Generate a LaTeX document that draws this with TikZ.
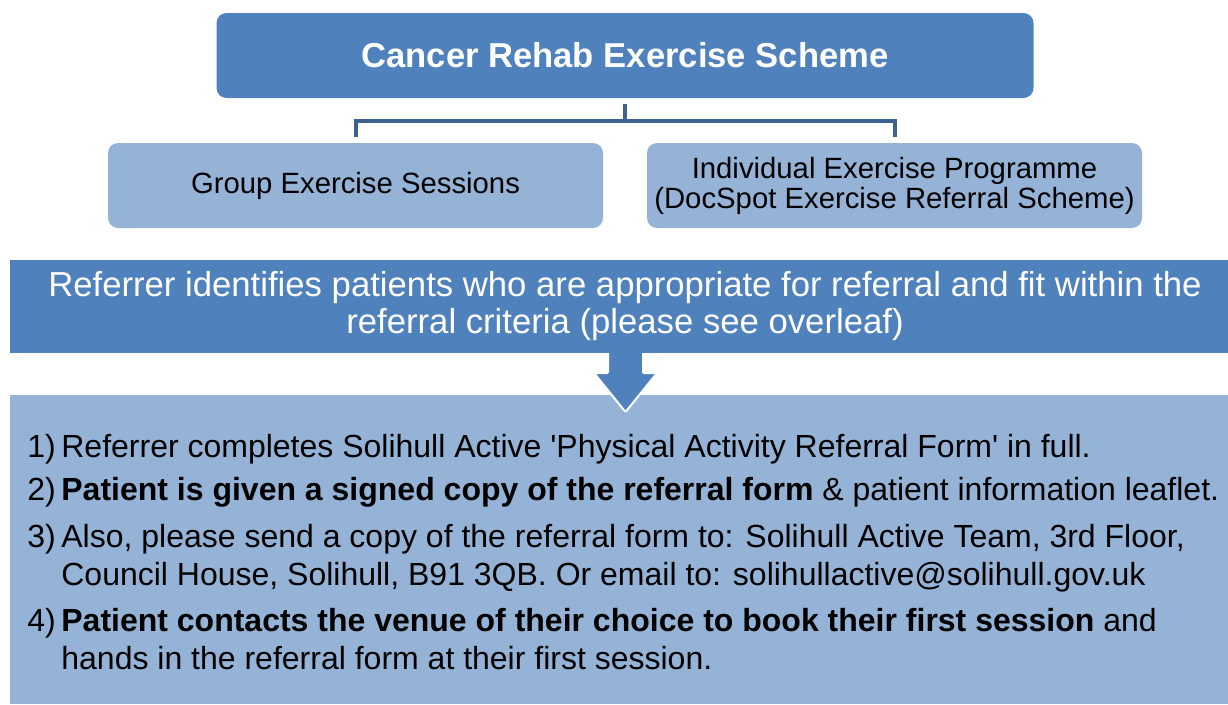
\documentclass[tikz,border=0pt]{standalone}
\usepackage{fontspec}
\setmainfont{Liberation Sans}
\usetikzlibrary{calc}
\definecolor{darkblu}{RGB}{79,129,189}
\definecolor{liteblu}{RGB}{149,179,215}
\definecolor{linkblu}{RGB}{60,98,145}
\tikzset{every picture/.style={line width=0.75pt}}
\tikzset{
  headbox/.style={fill=darkblu,text=white,rounded corners=10pt,inner sep=0pt,
    minimum width=817pt,minimum height=85pt,font=\fontsize{34.6}{38}\selectfont\bfseries},
  subbox/.style={fill=liteblu,rounded corners=10pt,inner sep=0pt,align=center,
    minimum width=495pt,minimum height=85pt,font=\fontsize{29.3}{30}\selectfont},
  stepitem/.style={anchor=base west,inner sep=0pt,align=left,
    font=\fontsize{32}{38}\selectfont},
  conn/.style={draw=linkblu,line width=4pt}
}
\newcommand{\numbox}[1]{\makebox[34pt][l]{#1}}

\begin{document}
\begin{tikzpicture}[x=1pt,y=-1pt]
\useasboundingbox (0,0) rectangle (1228,704);

% Top of the scheme
\node[headbox] (scheme) at (625,55.5) {Cancer Rehab Exercise Scheme};
\node[subbox] (group) at (355.5,185.5) {Group Exercise Sessions};
\node[subbox] (indiv) at (894.5,185.5) {Individual Exercise Programme\\(DocSpot Exercise Referral Scheme)};

% Fork
\coordinate (fork) at (625,120.5);
\draw[conn] ([yshift=-6pt]scheme.south) -- (fork);
\draw[conn] ([yshift=6pt]group.north) |- (fork) -| ([yshift=6pt]indiv.north);

% Steps panel
\node[fill=liteblu,minimum width=1218pt,minimum height=309pt,inner sep=0pt] (steps) at (619,549.5) {};

% Down arrow
\fill[darkblu,draw=white,line width=2pt,rounded corners=1pt]
  (608,345) -- (608,373) -- (594,373) -- (625.5,412) -- (657,373) -- (643,373) -- (643,345) -- cycle;

% Banner
\node[fill=darkblu,minimum width=1218pt,minimum height=93pt,inner sep=0pt] (banner) at (619,306.5) {};
\node[text=white,inner sep=0pt,align=center,font=\fontsize{34.7}{37}\selectfont] (bantext) at (625,306.5)
  {Referrer identifies patients who are appropriate for referral and fit within the\\referral criteria (please see overleaf)};

% Step texts (base = last line)
\node[stepitem] (s1) at (27,457) {\numbox{1)}Referrer completes Solihull Active \textquotesingle Physical Activity Referral Form\textquotesingle\ in full.};
\node[stepitem] (s2) at (27,500) {\numbox{2)}\textbf{Patient is given a signed copy of the referral form} \& patient information leaflet.};
\node[stepitem] (s3) at (27,585) {\numbox{3)}Also, please send a copy of the referral form to: Solihull Active Team, 3rd Floor,\\\hspace*{34pt}Council House, Solihull, B91 3QB. Or email to: solihullactive@solihull.gov.uk};
\node[stepitem] (s4) at (27,669) {\numbox{4)}\textbf{Patient contacts the venue of their choice to book their first session} and\\\hspace*{34pt}hands in the referral form at their first session.};

\end{tikzpicture}
\end{document}
